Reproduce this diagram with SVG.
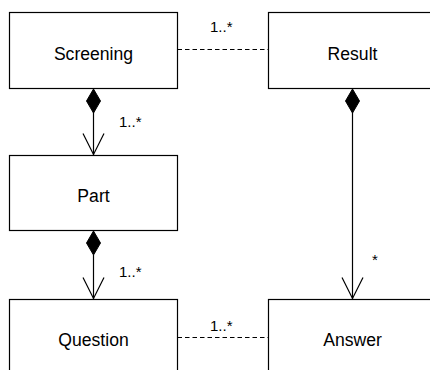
<svg xmlns="http://www.w3.org/2000/svg" width="430" height="370" viewBox="0 0 430 370">
  <style>
    .box { fill: #ffffff; stroke: #000000; stroke-width: 1.2; }
    .name { font-family: "Liberation Sans", Arial, Helvetica, sans-serif; font-size: 17.6px; fill: #000000; text-anchor: middle; }
    .mult { font-family: "Liberation Sans", Arial, Helvetica, sans-serif; font-size: 15px; fill: #000000; }
    .line { fill: none; stroke: #000000; stroke-width: 1.2; }
    .dash { fill: none; stroke: #000000; stroke-width: 1.2; stroke-dasharray: 4.5 3; }
    .diamond { fill: #000000; stroke: #000000; stroke-width: 1; }
    .open { fill: none; stroke: #000000; stroke-width: 1.2; stroke-linejoin: miter; }
  </style>
  <rect width="430" height="370" fill="#ffffff"/>

  <!-- class boxes -->
  <g id="screening">
    <rect class="box" x="9.5" y="12.5" width="168" height="76"/>
    <text class="name" x="93.5" y="59.5">Screening</text>
  </g>
  <g id="result">
    <rect class="box" x="268.5" y="12.5" width="168" height="76"/>
    <text class="name" x="352.5" y="59.5">Result</text>
  </g>
  <g id="part">
    <rect class="box" x="9.5" y="155.5" width="168" height="75"/>
    <text class="name" x="93.5" y="201.5">Part</text>
  </g>
  <g id="question">
    <rect class="box" x="9.5" y="299.5" width="168" height="76"/>
    <text class="name" x="93.5" y="345.5">Question</text>
  </g>
  <g id="answer">
    <rect class="box" x="268.5" y="299.5" width="168" height="76"/>
    <text class="name" x="352.5" y="345.5">Answer</text>
  </g>

  <!-- associations and compositions -->
  <g id="connectors">
    <!-- Screening - Result -->
    <line class="dash" x1="177.5" y1="49.5" x2="268.5" y2="49.5"/>
    <text class="mult" x="210" y="32">1..*</text>

    <!-- Question - Answer -->
    <line class="dash" x1="177.5" y1="337.5" x2="268.5" y2="337.5"/>
    <text class="mult" x="210" y="331">1..*</text>

    <!-- Screening composes Part -->
    <line class="line" x1="93.5" y1="112" x2="93.5" y2="155"/>
    <polygon class="diamond" points="93.5,89 100.5,101 93.5,113 86.5,101"/>
    <polyline class="open" points="83,133.5 93.5,154.5 104,133.5"/>
    <text class="mult" x="119" y="127">1..*</text>

    <!-- Part composes Question -->
    <line class="line" x1="93.5" y1="255" x2="93.5" y2="299"/>
    <polygon class="diamond" points="93.5,231 100.5,243 93.5,255 86.5,243"/>
    <polyline class="open" points="83,277.5 93.5,298.5 104,277.5"/>
    <text class="mult" x="119" y="277">1..*</text>

    <!-- Result composes Answer -->
    <line class="line" x1="352.5" y1="112" x2="352.5" y2="299"/>
    <polygon class="diamond" points="352.5,89 359.5,101 352.5,113 345.5,101"/>
    <polyline class="open" points="342,277.5 352.5,298.5 363,277.5"/>
    <text class="mult" x="372" y="265">*</text>
  </g>
</svg>
